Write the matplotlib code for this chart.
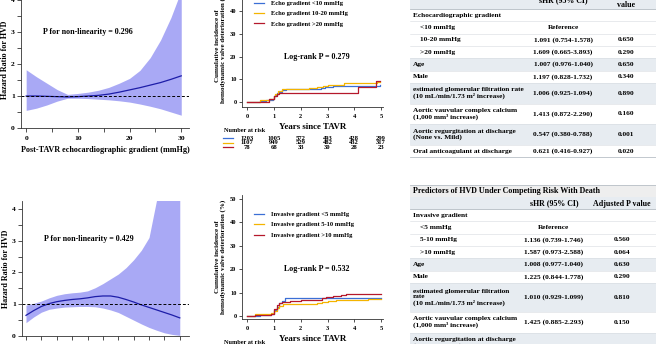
import matplotlib.pyplot as plt
import numpy as np
from matplotlib.transforms import blended_transform_factory

W, H = 656, 344

plt.rcParams["font.family"] = ["Liberation Serif", "DejaVu Serif"]
plt.rcParams["font.weight"] = "bold"
plt.rcParams["axes.labelweight"] = "bold"

BAND = "#a9a9f5"
CURVE = "#1d1da8"
BLUE = "#3b6fd6"
YELLOW = "#f4b400"
RED = "#b5182b"
SHADE = "#e7ecf1"

# restricted cubic spline, echocardiographic gradient
echo_x = [0, 2, 4, 6, 8, 10, 12, 14, 16, 18, 20, 22, 24, 26, 28, 30]
echo_hr = [1.00, 1.00, 0.99, 0.98, 0.97, 0.98, 1.00, 1.02, 1.06, 1.12, 1.19, 1.26, 1.34, 1.42, 1.52, 1.63]
echo_lo = [0.55, 0.62, 0.72, 0.84, 0.93, 0.93, 0.92, 0.90, 0.88, 0.85, 0.81, 0.75, 0.68, 0.60, 0.50, 0.40]
echo_hi = [1.82, 1.60, 1.40, 1.20, 1.05, 1.08, 1.12, 1.18, 1.27, 1.40, 1.55, 1.80, 2.20, 2.75, 3.45, 4.30]

# restricted cubic spline, invasive gradient
inv_x = list(range(0, 21))
inv_hr = [0.65, 0.80, 0.93, 1.02, 1.08, 1.12, 1.15, 1.17, 1.20, 1.24, 1.26, 1.26, 1.22, 1.15, 1.07,
          0.98, 0.90, 0.82, 0.74, 0.66, 0.57]
inv_lo = [0.42, 0.60, 0.75, 0.84, 0.88, 0.91, 0.92, 0.93, 0.93, 0.92, 0.88, 0.82, 0.74, 0.62, 0.50,
          0.38, 0.27, 0.18, 0.10, 0.05, 0.02]
inv_hi = [0.97, 1.03, 1.10, 1.20, 1.28, 1.33, 1.36, 1.38, 1.42, 1.52, 1.65, 1.80, 1.95, 2.15, 2.40,
          2.70, 3.10, 4.30, 5.50, 7.00, 9.00]

# cumulative incidence by echo gradient group (years, %)
echo_lt10_t = [0, 0.3, 0.5, 0.7, 0.85, 0.95, 1.02, 1.07, 1.12, 1.2, 1.3, 1.45, 2.0, 2.5, 2.75, 2.9, 3.2, 3.5, 4.8, 4.95]
echo_lt10_v = [0, 0.2, 0.4, 0.7, 1.0, 1.4, 2.5, 3.2, 4.0, 4.6, 5.2, 5.6, 5.8, 5.9, 6.2, 6.6, 6.9, 7.0, 7.2, 7.4]
echo_mid_t = [0, 0.5, 0.8, 1.0, 1.05, 1.15, 1.3, 2.0, 2.3, 2.6, 2.85, 3.0, 3.6, 4.85, 4.95]
echo_mid_v = [0, 0.8, 1.5, 2.5, 3.5, 5.0, 5.7, 5.9, 6.2, 6.5, 7.2, 7.5, 8.4, 8.7, 8.8]
echo_gt20_t = [0, 0.8, 1.0, 1.1, 1.2, 4.15, 4.8, 4.95]
echo_gt20_v = [0, 1.3, 2.5, 3.6, 4.0, 6.5, 9.3, 9.3]

# cumulative incidence by invasive gradient group (years, %)
inv_lt5_t = [0, 0.5, 0.9, 1.0, 1.1, 1.2, 1.3, 1.4, 5.0]
inv_lt5_v = [0, 0.3, 1.0, 2.5, 4.0, 5.5, 6.5, 7.5, 7.5]
inv_mid_t = [0, 0.3, 0.6, 0.9, 1.0, 1.1, 1.2, 1.35, 2.2, 2.6, 2.8, 3.0, 3.3, 3.8, 4.5, 5.0]
inv_mid_v = [0, 0.7, 1.0, 1.3, 2.0, 3.2, 4.2, 5.0, 5.2, 5.5, 6.0, 6.4, 6.7, 7.0, 7.1, 7.2]
inv_gt10_t = [0, 0.3, 0.9, 1.0, 1.1, 1.2, 1.3, 1.6, 2.0, 2.5, 2.8, 2.95, 3.2, 3.5, 3.7, 5.0]
inv_gt10_v = [0, 0.6, 1.0, 3.0, 4.5, 5.5, 6.0, 6.5, 6.8, 7.0, 7.5, 8.2, 8.5, 9.0, 9.2, 9.2]

risk_years = [0, 1, 2, 3, 4, 5]
risk_lt10 = [1203, 1005, 572, 493, 428, 299]
risk_mid = [1107, 949, 529, 482, 432, 317]
risk_gt20 = [78, 68, 33, 30, 28, 23]

# regression tables: (label, sHR, p, indent, shaded)
table_top = [
    ("Echocardiographic gradient", "", "", False, False),
    ("<10 mmHg", "Reference", "", True, False),
    ("10-20 mmHg", "1.091 (0.754-1.578)", "0.650", True, False),
    (">20 mmHg", "1.609 (0.665-3.893)", "0.290", True, False),
    ("Age", "1.007 (0.976-1.040)", "0.650", False, True),
    ("Male", "1.197 (0.828-1.732)", "0.340", False, False),
    ("estimated glomerular filtration rate\n(10 mL/min/1.73 m\u00b2 increase)", "1.006 (0.925-1.094)", "0.890", False, True),
    ("Aortic vauvular complex calcium\n(1,000 mm\u00b3 increase)", "1.413 (0.872-2.290)", "0.160", False, False),
    ("Aortic regurgitation at discharge\n(None vs. Mild)", "0.547 (0.380-0.788)", "0.001", False, True),
    ("Oral anticoagulant at discharge", "0.621 (0.416-0.927)", "0.020", False, False),
]
table_bottom = [
    ("Invasive gradient", "", "", False, False),
    ("<5 mmHg", "Reference", "", True, False),
    ("5-10 mmHg", "1.136 (0.739-1.746)", "0.560", True, False),
    (">10 mmHg", "1.587 (0.973-2.588)", "0.064", True, False),
    ("Age", "1.008 (0.977-1.040)", "0.630", False, True),
    ("Male", "1.225 (0.844-1.778)", "0.290", False, False),
    ("estimated glomerular filtration\nrate\n(10 mL/min/1.73 m\u00b2 increase)", "1.010 (0.929-1.099)", "0.810", False, True),
    ("Aortic vauvular complex calcium\n(1,000 mm\u00b3 increase)", "1.425 (0.885-2.293)", "0.150", False, False),
    ("Aortic regurgitation at discharge\n(None vs. Mild)", "", "", False, True),
]


def rect(left, top, right, bottom):
    """Pixel box (origin top-left) -> figure fraction rect."""
    return [left / W, 1 - bottom / H, (right - left) / W, (bottom - top) / H]


def style_axis(ax, size):
    for side in ("top", "right"):
        ax.spines[side].set_visible(False)
    for side in ("left", "bottom"):
        ax.spines[side].set_linewidth(0.6)
        ax.spines[side].set_color("#333333")
    ax.tick_params(which="both", direction="out", width=0.6, color="#333333", labelsize=size, pad=1.5)
    ax.tick_params(which="major", length=3)
    ax.tick_params(which="minor", length=3)


def draw_spline(ax, x, hr, lo, hi, pval, xlim, xmajor, xminor, xlabel=None):
    ax.fill_between(x, lo, hi, color=BAND, lw=0)
    ax.plot(x, hr, color=CURVE, lw=0.9)
    ax.axhline(1, color="black", lw=0.7, ls=(0, (3, 2)))
    ax.set_xlim(*xlim)
    ax.set_ylim(0, 4.25)
    ax.set_xticks(xmajor)
    ax.set_xticks(xminor, minor=True)
    ax.set_yticks([0, 1, 2, 3, 4])
    ax.set_yticks([0.5, 1.5, 2.5, 3.5], minor=True)
    style_axis(ax, 5.4)
    ax.tick_params(axis="x", pad=3)
    ax.set_ylabel("Hazard Ratio for HVD", fontsize=5.8, labelpad=1.5)
    if xlabel:
        ax.set_xlabel(xlabel, fontsize=5.9, labelpad=3)
    ax.text(0.4, 0.706, f"P for non-linearity = {pval}", transform=ax.transAxes,
            ha="center", va="center", fontsize=5.8)


def draw_incidence(ax, curves, labels, logrank):
    for (t, v), color, label in zip(curves, (BLUE, YELLOW, RED), labels):
        ax.step(t, v, where="post", color=color, lw=0.9, label=label)
    ax.set_xlim(-0.19, 5.07)
    ax.set_xticks(range(6))
    ax.set_yticks(range(0, 51, 10))
    style_axis(ax, 4.6)
    ax.tick_params(which="major", length=2.5)
    ax.tick_params(axis="x", pad=2.5)
    ax.set_xlabel("Years since TAVR", fontsize=6.4, labelpad=3)
    ax.set_ylabel("Cumulative incidence of\nhemodynamic valve deterioration (%)",
                  fontsize=5.0, labelpad=2.5, linespacing=1.1)
    ax.text(2.6, 20, f"Log-rank P = {logrank}", ha="center", va="center", fontsize=5.8)
    ax.legend(loc="upper left", bbox_to_anchor=(0.085, 0.868), frameon=False, fontsize=4.7,
              handlelength=1.6, handletextpad=1.0, labelspacing=0.75, borderpad=0, borderaxespad=0)


fig = plt.figure(figsize=(W / 100, H / 100), dpi=100, facecolor="white")

# left column: spline curves
ax1 = fig.add_axes(rect(21, -8, 189, 128))
draw_spline(ax1, echo_x, echo_hr, echo_lo, echo_hi, "0.296", (-1, 31.5),
            [0, 10, 20, 30], [5, 15, 25], "Post-TAVR echocardiographic gradient (mmHg)")
ax2 = fig.add_axes(rect(22, 201, 189, 336))
draw_spline(ax2, inv_x, inv_hr, inv_lo, inv_hi, "0.429", (-0.52, 21.2),
            [], list(range(0, 21, 2)))
ax2.texts[0].set_position((0.4, 0.72))

# middle column: cumulative incidence
ax3 = fig.add_axes(rect(242, -16, 383, 107))
ax3.set_ylim(-2.2, 52)
draw_incidence(ax3, [(echo_lt10_t, echo_lt10_v), (echo_mid_t, echo_mid_v), (echo_gt20_t, echo_gt20_v)],
               ["Echo gradient <10 mmHg", "Echo gradient 10-20 mmHg", "Echo gradient >20 mmHg"],
               "0.279")

trans = blended_transform_factory(ax3.transData, fig.transFigure)
fig.text(224 / W, 1 - 130 / H, "Number at risk", fontsize=4.5, va="center", ha="left")
for row_y, color, counts in zip((138, 142.7, 147.3), (BLUE, YELLOW, RED), (risk_lt10, risk_mid, risk_gt20)):
    fig.add_artist(plt.Line2D([223 / W, 233 / W], [1 - row_y / H] * 2, color=color, lw=0.9))
    for yr, n in zip(risk_years, counts):
        ax3.text(yr, 1 - row_y / H, str(n), transform=trans, ha="center", va="center", fontsize=4.8)

ax4 = fig.add_axes(rect(242, 195, 383, 319))
ax4.set_ylim(-1.3, 51.7)
draw_incidence(ax4, [(inv_lt5_t, inv_lt5_v), (inv_mid_t, inv_mid_v), (inv_gt10_t, inv_gt10_v)],
               ["Invasive gradient <5 mmHg", "Invasive gradient 5-10 mmHg", "Invasive gradient >10 mmHg"],
               "0.532")
fig.text(224 / W, 1 - 343 / H, "Number at risk", fontsize=4.5, va="center", ha="left")

# right column: tables drawn in pixel space
tab = fig.add_axes([410 / W, 0, 246 / W, 1])
tab.set_xlim(410, 656)
tab.set_ylim(344, 0)
tab.axis("off")

LINE_H = 8.4
FS = 5.3


def draw_rows(rows, top, hr_x, p_x):
    y = top
    for label, hr, p, indent, shaded in rows:
        n = label.count("\n") + 1
        h = 12.3 + (n - 1) * LINE_H
        if shaded:
            tab.axhspan(y + h, y, color=SHADE, lw=0)
        tab.axhline(y, color="#d6dbe0", lw=0.4)
        mid = y + h / 2
        tab.text(420 if indent else 413, mid, label, ha="left", va="center", fontsize=FS,
                 linespacing=1.1)
        tab.text(hr_x, mid, hr, ha="center", va="center", fontsize=FS)
        tab.text(p_x, mid, p, ha="center", va="center", fontsize=FS)
        y += h
    return y


# top table (header partly above the canvas)
tab.axhspan(9, -20, color=SHADE, lw=0)
tab.text(563, 0, "sHR (95% CI)", ha="center", va="center", fontsize=FS + 0.4)
tab.text(626, 0, "Adjusted P\nvalue", ha="center", va="center", fontsize=FS + 0.4, linespacing=1.2)
bottom = draw_rows(table_top, 9, 563, 626)
tab.axhline(9, color="#b8bfc6", lw=0.6)
tab.axhline(bottom, color="#b8bfc6", lw=0.6)

# bottom table
tab.axhspan(197, 185, color="#eeeeee", lw=0)
tab.axhline(185, color="#b8bfc6", lw=0.6)
tab.text(413, 191, "Predictors of HVD Under Competing Risk With Death", ha="left", va="center",
         fontsize=FS + 0.5)
tab.axhspan(209, 197, color=SHADE, lw=0)
tab.text(554, 203.5, "sHR (95% CI)", ha="center", va="center", fontsize=FS + 0.4)
tab.text(622, 203.5, "Adjusted P value", ha="center", va="center", fontsize=FS + 0.4)
draw_rows(table_bottom, 209, 554, 622)
tab.axhline(209, color="#b8bfc6", lw=0.6)

fig.savefig("out.png", dpi=100, facecolor="white")
